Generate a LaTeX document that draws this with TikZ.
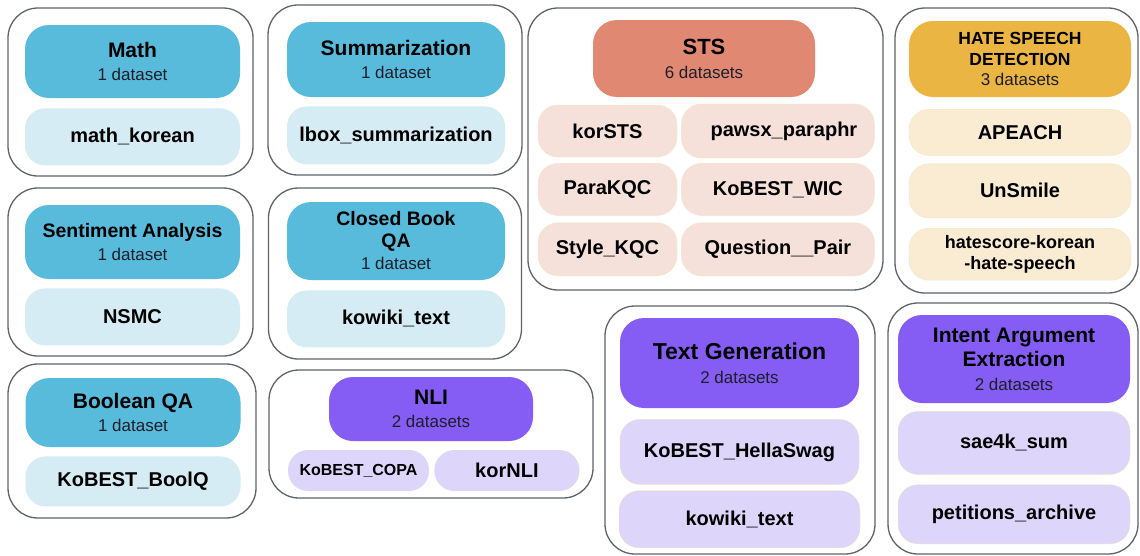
\documentclass[tikz,border=0pt]{standalone}
\usepackage{fontspec}
\setmainfont{Liberation Sans}
\usetikzlibrary{positioning}

\definecolor{groupline}{HTML}{5F646B}
\definecolor{headblue}{HTML}{58BBDB}
\definecolor{itemblue}{HTML}{D6ECF5}
\definecolor{headred}{HTML}{E08872}
\definecolor{itemred}{HTML}{F6E1DA}
\definecolor{headyellow}{HTML}{EAB542}
\definecolor{itemyellow}{HTML}{FAECD2}
\definecolor{edgeyellow}{HTML}{F7E4C2}
\definecolor{headpurple}{HTML}{855DF4}
\definecolor{itempurple}{HTML}{DED6FA}
\definecolor{edgepeach}{HTML}{F3DCCB}
\definecolor{subtext}{HTML}{1E1E2A}

\newcommand{\datasetcount}[1]{{\mdseries\fontsize{17}{20}\selectfont\color{subtext}#1}}

\begin{document}
\begin{tikzpicture}[x=1pt,y=-1pt,
  group/.style={draw=groupline,line width=1.3pt,rounded corners=30pt,fill=white,inner sep=0pt},
  header/.style={rounded corners=24pt,align=center,inner sep=0pt,
    font=\bfseries\fontsize{21}{23}\selectfont},
  item/.style={rounded corners=20pt,align=center,inner sep=0pt,
    font=\bfseries\fontsize{20}{22}\selectfont}]
    \path[use as bounding box,fill=white] (0,0) rectangle (1140,555);

    % task groups
    \node (math_group) [group,minimum width=245pt,minimum height=168pt] at (130.5,92) {};
    \node (summarization_group) [group,minimum width=254pt,minimum height=170pt] at (395,90) {};
    \node (sts_group) [group,minimum width=355pt,minimum height=282pt] at (705.5,149) {};
    \node (hate_group) [group,minimum width=243pt,minimum height=285pt] at (1016.5,150.5) {};
    \node (sentiment_group) [group,minimum width=245pt,minimum height=168pt] at (130.5,272) {};
    \node (closed_book_group) [group,minimum width=253pt,minimum height=171pt] at (395,273.5) {};
    \node (boolean_group) [group,minimum width=248pt,minimum height=154pt] at (132,441) {};
    \node (nli_group) [group,minimum width=324pt,minimum height=128pt] at (431,434) {};
    \node (generation_group) [group,minimum width=270pt,minimum height=248pt] at (740,430) {};
    \node (intent_group) [group,minimum width=250pt,minimum height=251pt] at (1013,428.5) {};

    % math
    \node (math_header) [header,fill=headblue,minimum width=215pt,minimum height=73pt]
      at (132.5,61.5) {Math\\\datasetcount{1 dataset}};
    \node (math_korean) [item,fill=itemblue,minimum width=215pt,minimum height=57pt,
      below=10pt of math_header] {math\_korean};

    % summarization
    \node (summarization_header) [header,fill=headblue,minimum width=218pt,minimum height=75pt]
      at (396,59.5) {Summarization\\\datasetcount{1 dataset}};
    \node (lbox_summarization) [item,fill=itemblue,minimum width=218pt,minimum height=58pt,
      below=9pt of summarization_header] {lbox\_summarization};

    % sentiment analysis
    \node (sentiment_header) [header,fill=headblue,minimum width=215pt,minimum height=74pt,
      font=\bfseries\fontsize{19.5}{23}\selectfont]
      at (132.5,242) {Sentiment Analysis\\\datasetcount{1 dataset}};
    \node (nsmc) [item,fill=itemblue,minimum width=215pt,minimum height=57pt,
      below=9pt of sentiment_header] {NSMC};

    % closed book qa
    \node (closed_book_header) [header,fill=headblue,minimum width=218pt,minimum height=78pt,
      font=\bfseries\fontsize{19.5}{22}\selectfont]
      at (396,241) {Closed Book\\QA\\\datasetcount{1 dataset}};
    \node (kowiki_text_qa) [item,fill=itemblue,minimum width=218pt,minimum height=57pt,
      below=10pt of closed_book_header] {kowiki\_text};

    % boolean qa
    \node (boolean_header) [header,fill=headblue,minimum width=215pt,minimum height=69pt]
      at (133,412.5) {Boolean QA\\\datasetcount{1 dataset}};
    \node (kobest_boolq) [item,fill=itemblue,minimum width=215pt,minimum height=50pt,
      below=9pt of boolean_header] {KoBEST\_BoolQ};

    % nli
    \node (nli_header) [header,fill=headpurple,minimum width=204pt,minimum height=64pt]
      at (431,409) {NLI\\\datasetcount{2 datasets}};
    \node (kobest_copa) [item,fill=itempurple,minimum width=141pt,minimum height=41pt,
      font=\bfseries\fontsize{16}{18}\selectfont] at (358.5,470.5) {KoBEST\_COPA};
    \node (kornli) [item,fill=itempurple,minimum width=145pt,minimum height=41pt,
      right=5pt of kobest_copa] {korNLI};

    % sts
    \node (sts_header) [header,fill=headred,minimum width=222pt,minimum height=77pt,
      font=\bfseries\fontsize{22}{24}\selectfont]
      at (704,58.5) {STS\\\datasetcount{6 datasets}};
    \node (korsts) [item,fill=itemred,draw=edgeyellow,minimum width=139pt,minimum height=52pt]
      at (607.5,131) {korSTS};
    \node (pawsx_paraphr) [item,fill=itemred,draw=edgeyellow,minimum width=193pt,minimum height=54pt,
      right=4pt of korsts] {\hspace*{12pt}pawsx\_paraphr};
    \node (parakqc) [item,fill=itemred,draw=edgeyellow,minimum width=139pt,minimum height=52pt,
      below=6pt of korsts] {ParaKQC};
    \node (kobest_wic) [item,fill=itemred,draw=edgeyellow,minimum width=193pt,minimum height=52pt,
      right=4pt of parakqc] {KoBEST\_WIC};
    \node (style_kqc) [item,fill=itemred,draw=edgeyellow,minimum width=139pt,minimum height=53pt,
      below=7pt of parakqc] {Style\_KQC};
    \node (question_pair) [item,fill=itemred,draw=edgeyellow,minimum width=193pt,minimum height=53pt,
      right=4pt of style_kqc] {Question\_\_Pair};

    % hate speech detection
    \node (hate_header) [header,fill=headyellow,minimum width=222pt,minimum height=76pt,
      font=\bfseries\fontsize{17.5}{20.5}\selectfont]
      at (1020,59) {HATE SPEECH\\DETECTION\\\datasetcount{3 datasets}};
    \node (apeach) [item,fill=itemyellow,draw=edgeyellow,minimum width=222pt,minimum height=46pt,
      below=12pt of hate_header] {APEACH};
    \node (unsmile) [item,fill=itemyellow,draw=edgeyellow,minimum width=222pt,minimum height=54pt,
      below=8pt of apeach] {UnSmile};
    \node (hatescore) [item,fill=itemyellow,draw=edgeyellow,minimum width=222pt,minimum height=52pt,
      font=\bfseries\fontsize{18}{21}\selectfont,below=10pt of unsmile] {hatescore-korean\\-hate-speech};

    % text generation
    \node (generation_header) [header,fill=headpurple,minimum width=239pt,minimum height=90pt,
      font=\bfseries\fontsize{23}{24}\selectfont]
      at (739.5,363) {Text Generation\\\datasetcount{2 datasets}};
    \node (kobest_hellaswag) [item,fill=itempurple,draw=edgepeach,minimum width=239pt,minimum height=65pt,
      below=11pt of generation_header] {KoBEST\_HellaSwag};
    \node (kowiki_text_gen) [item,fill=itempurple,draw=edgepeach,minimum width=241pt,minimum height=57pt,
      below=6pt of kobest_hellaswag] {kowiki\_text};

    % intent argument extraction
    \node (intent_header) [header,fill=headpurple,minimum width=232pt,minimum height=88pt,
      font=\bfseries\fontsize{21}{24}\selectfont]
      at (1014,359) {Intent Argument\\Extraction\\\datasetcount{2 datasets}};
    \node (sae4k_sum) [item,fill=itempurple,draw=edgepeach,minimum width=232pt,minimum height=63pt,
      below=8pt of intent_header] {sae4k\_sum};
    \node (petitions_archive) [item,fill=itempurple,draw=edgepeach,minimum width=232pt,minimum height=59pt,
      below=10pt of sae4k_sum] {petitions\_archive};
  \end{tikzpicture}
\end{document}
